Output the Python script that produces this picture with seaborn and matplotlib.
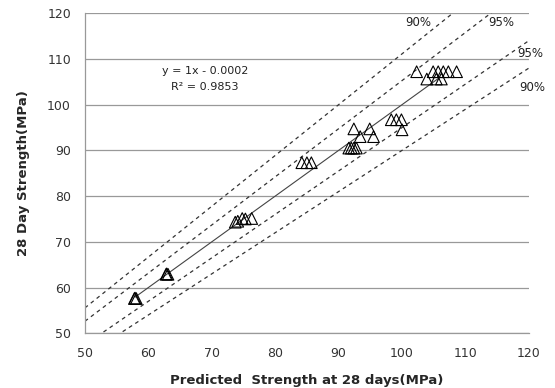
import numpy as np
import pandas as pd
import seaborn as sns
import matplotlib.pyplot as plt

# predicted vs measured 28 day strength (MPa)
predicted = [57.8, 57.9, 58.1,
             62.8, 62.9, 63.1,
             73.7, 74.1, 74.8, 75.3, 76.3,
             84.2, 85.0, 85.7,
             91.6, 92.0, 92.4, 92.8,
             93.4, 95.5,
             92.4, 94.9,
             98.3, 99.1, 99.9,
             100.0,
             102.3, 104.9, 105.7, 106.5, 107.3, 108.6,
             103.9, 105.4, 106.2]
measured = [57.6, 57.7, 57.6,
            62.9, 63.0, 62.9,
            74.3, 74.5, 75.1, 75.0, 75.1,
            87.3, 87.3, 87.3,
            90.5, 90.5, 90.5, 90.5,
            93.0, 93.0,
            94.7, 94.7,
            96.7, 96.7, 96.7,
            94.5,
            107.2, 107.2, 107.2, 107.2, 107.2, 107.2,
            105.6, 105.6, 105.6]

fit_x = [57.9, 106.0]
fit_slope, fit_icpt = 1.0, -0.0002

band_factors = [1 / 0.9, 1 / 0.95, 0.95, 0.9]
band_labels = ['90%', '95%', '95%', '90%']
label_pos = [(102.5, 118.0), (115.6, 118.0), (120.2, 111.1), (120.6, 103.8)]

ticks = [50, 60, 70, 80, 90, 100, 110, 120]

df = pd.DataFrame({'pred': predicted, 'meas': measured})

sns.set_style('white')
plt.rcParams['font.family'] = ['DejaVu Sans']

fig = plt.figure(figsize=(5.55, 3.88), dpi=100)
ax = fig.add_axes([0.153, 0.141, 0.8, 0.825])

ax.set_xlim(50, 120)
ax.set_ylim(50, 120)
ax.set_xticks(ticks)
ax.set_yticks(ticks)
ax.yaxis.grid(True, color='#999999', lw=0.9)
ax.xaxis.grid(False)

# dashed bands
xx = np.array([50, 120])
for f in band_factors:
    ax.plot(xx, xx * f, ls=(0, (3, 3)), color='#333333', lw=0.9, zorder=2)
for lab, (lx, ly) in zip(band_labels, label_pos):
    ax.text(lx, ly, lab, ha='center', va='center', fontsize=8.5, color='#222222')

# trend line
fx = np.array(fit_x)
ax.plot(fx, fit_slope * fx + fit_icpt, color='#444444', lw=0.8, zorder=3)

sns.scatterplot(data=df, x='pred', y='meas', ax=ax, marker='^', s=70,
                facecolor='none', edgecolor='black', linewidth=0.8, zorder=4)

ax.text(68.9, 107.4, 'y = 1x - 0.0002', ha='center', va='center', fontsize=8, color='#222222')
ax.text(68.9, 103.8, 'R² = 0.9853', ha='center', va='center', fontsize=8, color='#222222')

for side in ['top', 'right']:
    ax.spines[side].set_visible(False)
for side in ['left', 'bottom']:
    ax.spines[side].set_color('#999999')
    ax.spines[side].set_linewidth(0.9)

ax.tick_params(axis='both', length=0, labelsize=9, colors='#333333', pad=10)
ax.tick_params(axis='y', length=6, color='#999999', pad=4, direction='out')
ax.set_xlabel('Predicted  Strength at 28 days(MPa)', fontsize=9.5, fontweight='bold', labelpad=10)
ax.set_ylabel('28 Day Strength(MPa)', fontsize=9.5, fontweight='bold', labelpad=12)

fig.savefig('out.png', dpi=100)
